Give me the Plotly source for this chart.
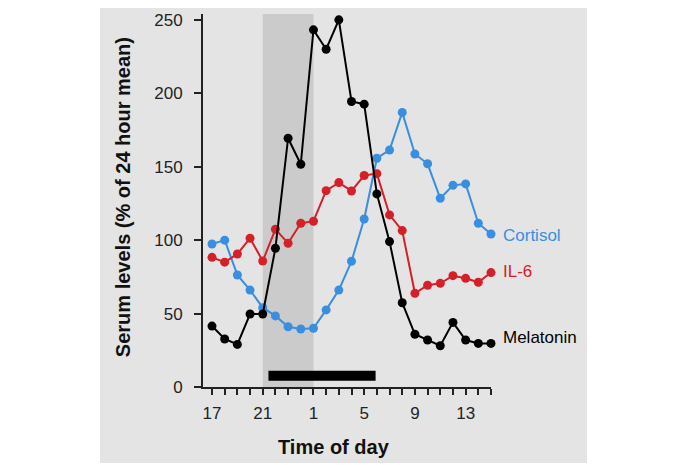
import plotly.graph_objects as go

# Hours (continuous clock: 17 .. 39 where 25 = 1 h next day)
hours = list(range(17, 40))
tick_text = {17: "17", 21: "21", 25: "1", 29: "5", 33: "9", 37: "13"}
hour_labels = [tick_text.get(h, "") for h in hours]

cortisol = [97.4, 100, 76.3, 66, 54, 48.4, 41, 39.5, 40, 52.5, 66, 85.6, 114.4,
            155.8, 161.4, 187, 158.7, 152, 128.5, 137.3, 138.3, 111.5, 104.2]
il6 = [88.3, 85, 90.6, 101.3, 85.8, 107.4, 97.9, 111.5, 112.9, 133.7, 139.2, 133.5, 144,
       145.3, 117.2, 106.5, 63.8, 69.3, 70.6, 75.8, 74, 71.3, 77.9]
melatonin = [41.5, 32.7, 29, 49.7, 49.7, 94.5, 169.4, 151.7, 243.2, 230, 250, 194.4, 192.6,
             131.5, 99, 57.4, 35.9, 32, 28.1, 44, 32, 29.7, 29.7]

series_names = ["Cortisol", "IL-6", "Melatonin"]
series_values = [cortisol, il6, melatonin]
series_colors = ["#3a8ee0", "#d42028", "#000000"]
label_y = [103.4, 78.9, 33.4]

# Dark period (shaded) and sleep bar
dark_start, dark_end = 21, 25
sleep_start, sleep_end = 21.45, 29.9
sleep_low, sleep_high = 4.3, 11.1

fig = go.Figure()

for name, vals, col in zip(series_names, series_values, series_colors):
    fig.add_trace(go.Scatter(
        x=hours, y=vals, mode="lines+markers", name=name,
        line=dict(color=col, width=2),
        marker=dict(color=col, size=9),
        cliponaxis=False, showlegend=False,
    ))

for name, yv, col in zip(series_names, label_y, series_colors):
    fig.add_annotation(x=1.0347, y=yv, xref="paper", yref="y", text=name, showarrow=False,
                       xanchor="left", yanchor="middle",
                       font=dict(family="Liberation Sans, Arial", size=17, color=col))

shapes = [
    dict(type="rect", xref="paper", yref="paper", x0=-0.3576, x1=1.3333, y0=-0.2038, y1=1.06,
         fillcolor="#e4e4e4", line=dict(width=0), layer="below"),
    dict(type="rect", xref="x", yref="y", x0=dark_start, x1=dark_end, y0=0, y1=254,
         fillcolor="#cbcbcb", line=dict(width=0), layer="below"),
    dict(type="rect", xref="x", yref="y", x0=sleep_start, x1=sleep_end, y0=sleep_low, y1=sleep_high,
         fillcolor="#000000", line=dict(width=0), layer="above"),
]

fig.update_layout(
    width=677, height=457,
    margin=dict(l=195, r=194, t=6, b=78, autoexpand=False),
    paper_bgcolor="#ffffff", plot_bgcolor="rgba(0,0,0,0)",
    shapes=shapes,
    font=dict(family="Liberation Sans, Arial", size=17, color="#222222"),
    xaxis=dict(range=[16.29, 39], showgrid=False, zeroline=False, automargin=False,
               tickmode="array", tickvals=hours, ticktext=hour_labels,
               ticks="outside", ticklen=6, tickwidth=2, tickcolor="#222222",
               showline=True, linecolor="#222222", linewidth=2,
               ticklabelstandoff=4),
    yaxis=dict(range=[0, 254], showgrid=False, zeroline=False, automargin=False,
               tickmode="array", tickvals=[0, 50, 100, 150, 200, 250],
               ticks="outside", ticklen=7, tickwidth=2, tickcolor="#222222",
               showline=True, linecolor="#222222", linewidth=2,
               ticklabelstandoff=8),
)

fig.add_annotation(x=-0.2778, y=0.509, xref="paper", yref="paper",
                   text="<b>Serum levels (% of 24 hour mean)</b>", textangle=-90,
                   showarrow=False, xanchor="center", yanchor="middle",
                   font=dict(family="Liberation Sans, Arial", size=20, color="#111111"))
fig.add_annotation(x=0.455, y=-0.161, xref="paper", yref="paper",
                   text="<b>Time of day</b>", showarrow=False,
                   xanchor="center", yanchor="middle",
                   font=dict(family="Liberation Sans, Arial", size=20, color="#111111"))

fig.write_html("out.html")
